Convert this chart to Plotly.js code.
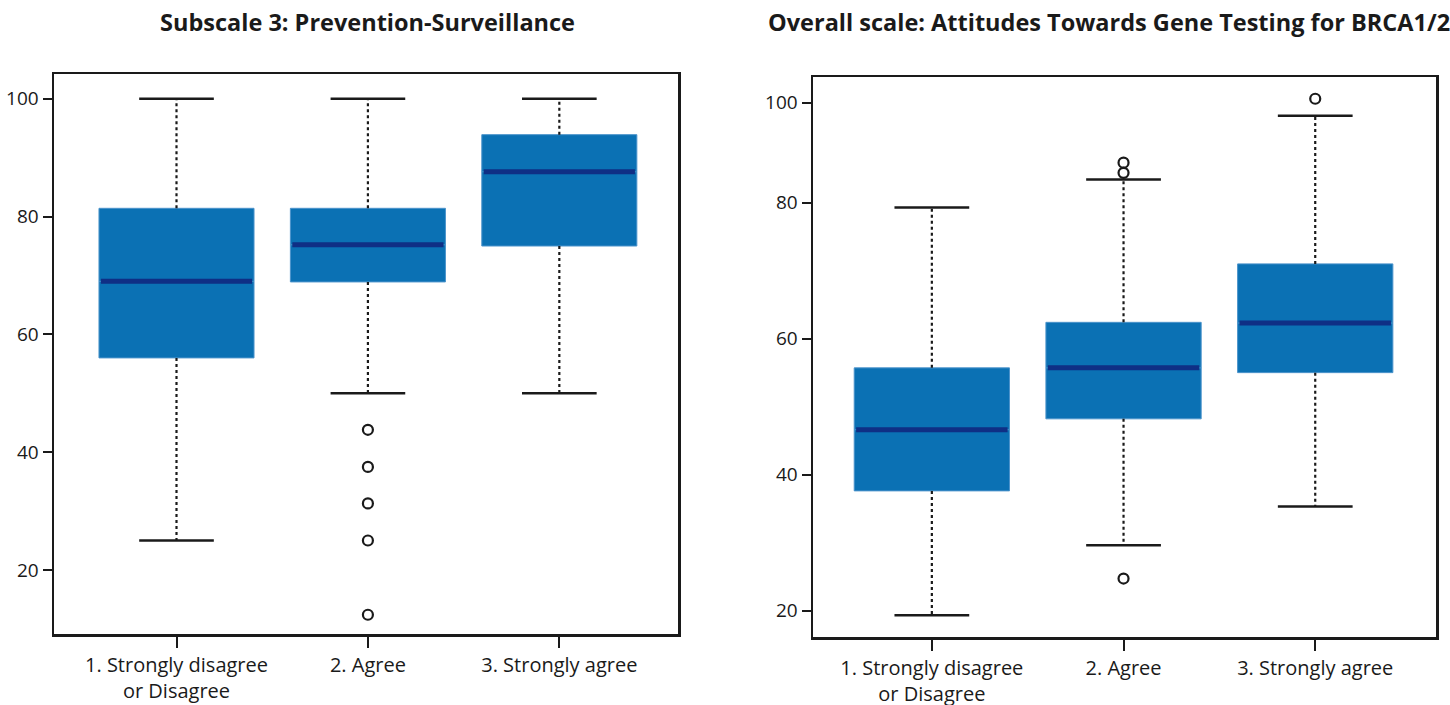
<!DOCTYPE html>
<html>
<head>
<meta charset="utf-8">
<script src="https://cdn.plot.ly/plotly-3.0.1.min.js"></script>
<style>html,body{margin:0;padding:0;background:#fff;}#chart{width:1450px;height:705px;}</style>
</head>
<body>
<div id="chart"></div>
<script>
// ---------- data ----------
const categories = ['1. Strongly disagree<br>or Disagree', '2. Agree', '3. Strongly agree'];

// Subscale 3: Prevention-Surveillance
const s3Q1     = [56.0, 68.9, 75.0];
const s3Median = [69.0, 75.2, 87.6];
const s3Q3     = [81.4, 81.4, 93.9];
const s3Lower  = [25.0, 50.0, 50.0];
const s3Upper  = [100.0, 100.0, 100.0];
const s3OutCat = [1, 1, 1, 1, 1];
const s3OutVal = [43.8, 37.5, 31.3, 25.0, 12.4];
const s3TickVals = [20, 40, 60, 80, 100];
const s3TickText = ['20', '40', '60', '80', '100'];

// Overall scale: Attitudes Towards Gene Testing for BRCA1/2
const ovQ1     = [37.6, 48.2, 55.0];
const ovMedian = [46.6, 55.7, 62.3];
const ovQ3     = [55.7, 62.4, 71.0];
const ovLower  = [19.3, 29.6, 35.3];
const ovUpper  = [79.3, 83.4, 92.8];
const ovOutCat = [1, 1, 1, 2];
const ovOutVal = [85.9, 84.4, 24.7, 95.3];
const ovTickVals = [20, 40, 60, 80, 94.7];
const ovTickText = ['20', '40', '60', '80', '100'];

const titles = ['Subscale 3: Prevention-Surveillance', 'Overall scale: Attitudes Towards Gene Testing for BRCA1/2'];

// ---------- styles ----------
const BOX_FILL = '#0b71b4';
const BOX_EDGE = '#4b93cb';
const MEDIAN = '#0f2f85';
const INK = '#1a1a1a';
const BOX_W = 0.81;
const CAP_W = 0.39;
const FONT = '"Open Sans", "Noto Sans", sans-serif';

function seg(idx, a, b) {
  const xs = [], ys = [];
  idx.forEach((i, k) => { xs.push(i, i, null); ys.push(a[k], b[k], null); });
  return {xs, ys};
}
function hseg(idx, v, half) {
  const xs = [], ys = [];
  idx.forEach((i, k) => { xs.push(i - half, i + half, null); ys.push(v[k], v[k], null); });
  return {xs, ys};
}

function panel(q1, med, q3, lo, up, outCat, outVal, xa, ya) {
  const idx = categories.map((c, i) => i);
  const traces = [];
  const wl = seg(idx, q1, lo), wu = seg(idx, q3, up);
  traces.push({type: 'scatter', mode: 'lines', x: wl.xs.concat(wu.xs), y: wl.ys.concat(wu.ys),
    line: {color: INK, width: 2.2, dash: 'dot'}, xaxis: xa, yaxis: ya, hoverinfo: 'skip', showlegend: false});
  const cl = hseg(idx, lo, CAP_W / 2), cu = hseg(idx, up, CAP_W / 2);
  traces.push({type: 'scatter', mode: 'lines', x: cl.xs.concat(cu.xs), y: cl.ys.concat(cu.ys),
    line: {color: INK, width: 2.5}, xaxis: xa, yaxis: ya, hoverinfo: 'skip', showlegend: false});
  traces.push({type: 'box', x: idx, q1: q1, median: med, q3: q3, lowerfence: q1, upperfence: q3,
    width: BOX_W, fillcolor: BOX_FILL, line: {color: BOX_EDGE, width: 1}, whiskerwidth: 0,
    boxpoints: false, xaxis: xa, yaxis: ya, showlegend: false});
  const md = hseg(idx, med, BOX_W / 2 - 0.01);
  traces.push({type: 'scatter', mode: 'lines', x: md.xs, y: md.ys,
    line: {color: MEDIAN, width: 5}, xaxis: xa, yaxis: ya, hoverinfo: 'skip', showlegend: false});
  traces.push({type: 'scatter', mode: 'markers', x: outCat, y: outVal,
    marker: {symbol: 'circle-open', size: 10, color: INK, line: {width: 2.2, color: INK}},
    xaxis: xa, yaxis: ya, showlegend: false});
  return traces;
}

const data = panel(s3Q1, s3Median, s3Q3, s3Lower, s3Upper, s3OutCat, s3OutVal, 'x', 'y')
  .concat(panel(ovQ1, ovMedian, ovQ3, ovLower, ovUpper, ovOutCat, ovOutVal, 'x2', 'y2'));

const axisCommon = {
  showline: true, mirror: true, linecolor: INK, linewidth: 2.5,
  ticks: 'outside', ticklen: 9, tickwidth: 2, tickcolor: INK,
  showgrid: false, zeroline: false, tickfont: {family: FONT, size: 19, color: INK}
};
const xTickFont = {family: FONT, size: 20, color: INK};
const catIdx = categories.map((c, i) => i);

const layout = {
  width: 1450, height: 705,
  margin: {l: 0, r: 0, t: 0, b: 0},
  paper_bgcolor: '#fff', plot_bgcolor: '#fff',
  showlegend: false,
  xaxis: Object.assign({}, axisCommon, {domain: [54 / 1450, 678 / 1450], range: [-0.64, 2.62],
    tickvals: catIdx, ticktext: categories, ticklen: 11, tickfont: xTickFont, anchor: 'y'}),
  yaxis: Object.assign({}, axisCommon, {domain: [71 / 705, 631 / 705], range: [9.13, 104.2],
    tickvals: s3TickVals, ticktext: s3TickText, anchor: 'x'}),
  xaxis2: Object.assign({}, axisCommon, {domain: [813 / 1450, 1436 / 1450], range: [-0.62, 2.63],
    tickvals: catIdx, ticktext: categories, ticklen: 11, tickfont: xTickFont, anchor: 'y2'}),
  yaxis2: Object.assign({}, axisCommon, {domain: [68 / 705, 628 / 705], range: [16.1, 98.5],
    tickvals: ovTickVals, ticktext: ovTickText, anchor: 'x2'}),
  annotations: [
    {text: '<b>' + titles[0] + '</b>', xref: 'paper', yref: 'paper', x: 367 / 1450, y: 1 - 22 / 705,
      xanchor: 'center', yanchor: 'middle', showarrow: false, font: {family: FONT, size: 23.5, color: INK}},
    {text: '<b>' + titles[1] + '</b>', xref: 'paper', yref: 'paper', x: 1109 / 1450, y: 1 - 22 / 705,
      xanchor: 'center', yanchor: 'middle', showarrow: false, font: {family: FONT, size: 23.5, color: INK}}
  ]
};

Plotly.newPlot('chart', data, layout, {staticPlot: true, displayModeBar: false});
</script>
</body>
</html>
